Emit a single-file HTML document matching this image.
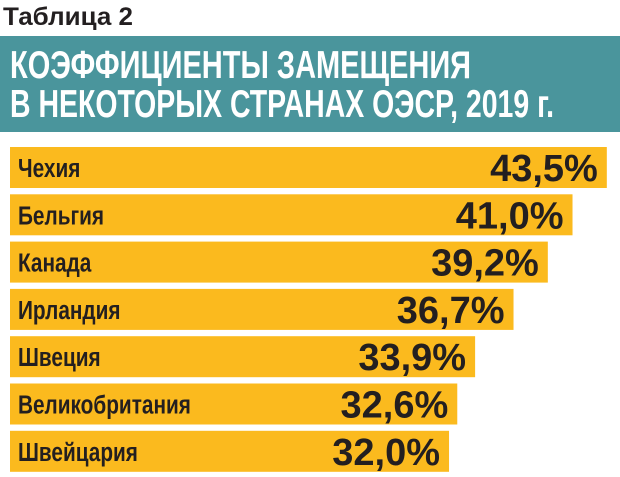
<!DOCTYPE html>
<html><head><meta charset="utf-8"><style>
html,body{margin:0;padding:0;background:#fff;width:620px;height:477px;overflow:hidden}
svg{display:block}
text{font-family:"Liberation Sans",sans-serif;font-weight:bold}
</style></head><body>
<svg id="chart" width="620" height="477">
  <text x="3" y="25" font-size="25" fill="#231f20" textLength="130" lengthAdjust="spacingAndGlyphs">Таблица 2</text>
  <rect x="0" y="36" width="620" height="96" fill="#4a959c"/>
  <text x="10" y="78" font-size="39" fill="#fff" textLength="461" lengthAdjust="spacingAndGlyphs">КОЭФФИЦИЕНТЫ ЗАМЕЩЕНИЯ</text>
  <text x="10" y="117" font-size="39" fill="#fff" textLength="544" lengthAdjust="spacingAndGlyphs">В НЕКОТОРЫХ СТРАНАХ ОЭСР, 2019 г.</text>
  <g id="bars"></g>
</svg>
<script>
const countries = ["Чехия","Бельгия","Канада","Ирландия","Швеция","Великобритания","Швейцария"];
const values = [43.5, 41.0, 39.2, 36.7, 33.9, 32.6, 32.0];
const valueLabels = ["43,5%","41,0%","39,2%","36,7%","33,9%","32,6%","32,0%"];

const NS = "http://www.w3.org/2000/svg";
const x0 = 10, pxPerUnit = 13.72;
const xScale = v => v * pxPerUnit;
const yTop = 147, pitch = 47.3, barH = 41;
const yScale = i => yTop + i * pitch;
const g = document.getElementById("bars");
countries.forEach((c, i) => {
  const y = yScale(i);
  const w = xScale(values[i]);
  const r = document.createElementNS(NS, "rect");
  r.setAttribute("x", x0); r.setAttribute("y", y);
  r.setAttribute("width", w); r.setAttribute("height", barH);
  r.setAttribute("fill", "#fbba1e");
  
  
  g.appendChild(r);
  const t = document.createElementNS(NS, "text");
  t.setAttribute("x", 18 / 0.8); t.setAttribute("y", y + 30);
  t.setAttribute("font-size", "26"); t.setAttribute("fill", "#231f20");
  t.setAttribute("transform", "scale(0.8,1)");
  t.textContent = c;
  
  
  g.appendChild(t);
  const v = document.createElementNS(NS, "text");
  v.setAttribute("x", x0 + w - 9); v.setAttribute("y", y + 34);
  v.setAttribute("font-size", "38"); v.setAttribute("fill", "#231f20");
  v.setAttribute("text-anchor", "end");
  v.textContent = valueLabels[i];
  
  
  g.appendChild(v);
});
</script>
</body></html>
